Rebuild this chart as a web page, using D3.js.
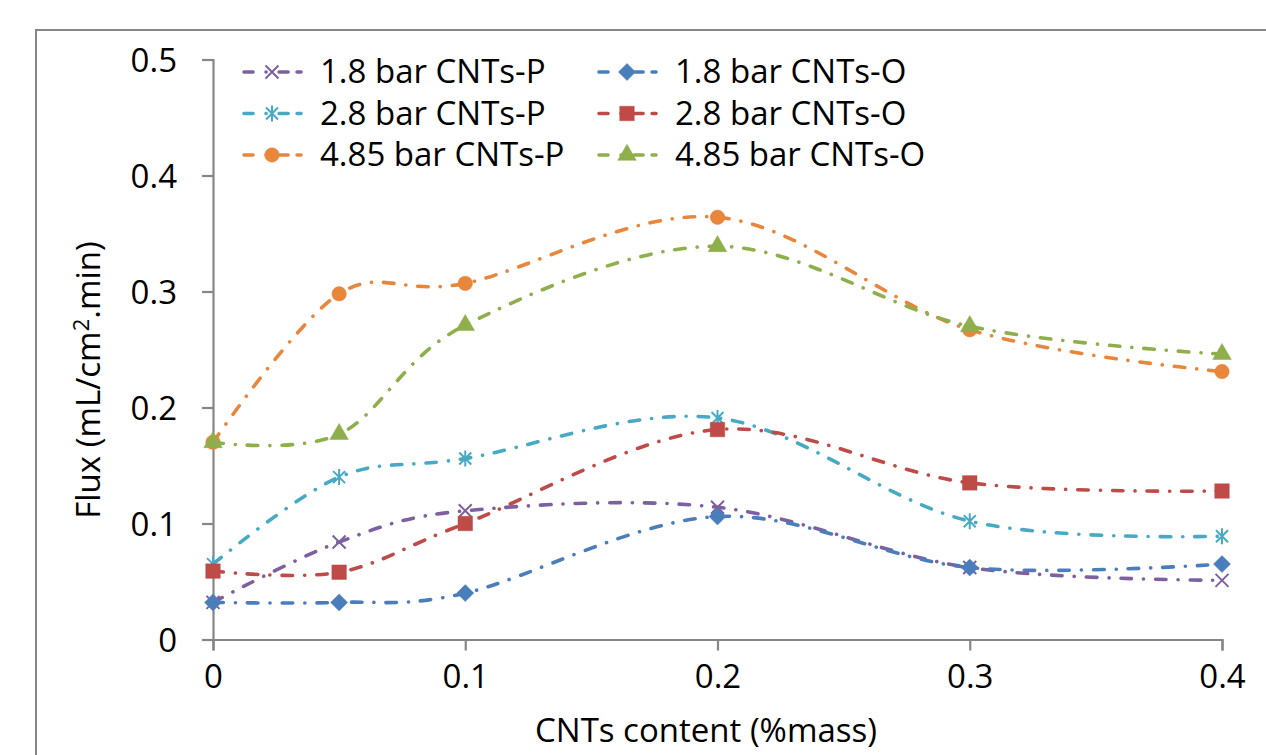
<!DOCTYPE html>
<html>
<head>
<meta charset="utf-8">
<script src="https://cdn.jsdelivr.net/npm/d3@7/dist/d3.min.js"></script>
<style>
  body { margin: 0; background: #fff; }
  svg text { font-family: "Open Sans", "Noto Sans", sans-serif; fill: #000; }
</style>
</head>
<body>
<script>
// data
var xValues = [0, 0.05, 0.1, 0.2, 0.3, 0.4];
var flux18P = [0.032, 0.084, 0.111, 0.114, 0.062, 0.051];
var flux18O = [0.032, 0.032, 0.040, 0.106, 0.062, 0.065];
var flux28P = [0.065, 0.140, 0.156, 0.191, 0.102, 0.089];
var flux28O = [0.059, 0.058, 0.100, 0.181, 0.135, 0.128];
var flux485P = [0.170, 0.298, 0.307, 0.364, 0.267, 0.231];
var flux485O = [0.170, 0.177, 0.271, 0.339, 0.270, 0.246];

var seriesNames = ["1.8 bar CNTs-P", "1.8 bar CNTs-O", "2.8 bar CNTs-P",
                   "2.8 bar CNTs-O", "4.85 bar CNTs-P", "4.85 bar CNTs-O"];
var seriesValues = [flux18P, flux18O, flux28P, flux28O, flux485P, flux485O];

var xTicks = [0, 0.1, 0.2, 0.3, 0.4];
var yTicks = [0, 0.1, 0.2, 0.3, 0.4, 0.5];

// styles
var colors = ["#7D60A0", "#4A7EBB", "#46AAC5", "#BE4B48", "#E8863C", "#8FAE4C"];
var markers = ["x", "diamond", "star", "square", "circle", "triangle"];

var w = 1266;
var h = 755;
var axisColor = "#868686";

var svg = d3.select("body").append("svg")
    .attr("width", w)
    .attr("height", h);

// outer chart border (runs off the right and bottom)
svg.append("rect")
    .attr("x", 36).attr("y", 30)
    .attr("width", 1300).attr("height", 800)
    .style("fill", "none")
    .style("stroke", axisColor)
    .style("stroke-width", 2);

var x = d3.scaleLinear().domain([0, 0.4]).range([213, 1222]);
var y = d3.scaleLinear().domain([0, 0.5]).range([639.5, 59.5]);

// y axis
var yAxis = svg.append("g")
    .attr("transform", "translate(" + x(0) + ",0)")
    .call(d3.axisLeft(y).tickValues(yTicks).tickSize(11).tickPadding(25)
        .tickFormat(function(d) { return d == 0 ? "0" : d3.format(".1f")(d); }));

// x axis
var xAxis = svg.append("g")
    .attr("transform", "translate(0," + y(0) + ")")
    .call(d3.axisBottom(x).tickValues(xTicks).tickSize(11).tickPadding(14)
        .tickFormat(function(d) { return d == 0 ? "0" : d3.format(".1f")(d); }));

[yAxis, xAxis].forEach(function(a) {
    a.select(".domain").style("stroke", axisColor).style("stroke-width", 2.2);
    a.selectAll(".tick line").style("stroke", axisColor).style("stroke-width", 2.2);
    a.selectAll(".tick text")
        .style("font-size", "33px")
        .style("font-family", "'Open Sans', sans-serif")
        .style("fill", "#000");
});
yAxis.selectAll(".tick text").attr("dy", "0.36em");

// axis titles
svg.append("text")
    .attr("x", 706).attr("y", 742)
    .attr("text-anchor", "middle")
    .style("font-size", "33px")
    .text("CNTs content (%mass)");

var yTitle = svg.append("text")
    .attr("transform", "translate(100,380) rotate(-90)")
    .attr("text-anchor", "middle")
    .style("font-size", "33px");
yTitle.append("tspan").text("Flux (mL/cm");
yTitle.append("tspan").attr("dy", -11).style("font-size", "22px").text("2");
yTitle.append("tspan").attr("dy", 11).text(".min)");

// markers
function markerPath(type) {
    if (type == "x") {
        return "M-6.5,-6.5L6.5,6.5M-6.5,6.5L6.5,-6.5";
    }
    if (type == "star") {
        return "M-6,-6L6,6M-6,6L6,-6M0,-8L0,8";
    }
    if (type == "diamond") {
        return "M0,-8.5L8.5,0L0,8.5L-8.5,0Z";
    }
    var sym = { square: d3.symbolSquare, circle: d3.symbolCircle,
                triangle: d3.symbolTriangle }[type];
    var size = { square: 210, circle: 165, triangle: 150 }[type];
    return d3.symbol().type(sym).size(size)();
}

function drawMarker(g, type, color, px, py) {
    var open = (type == "x" || type == "star");
    g.append("path")
        .attr("d", markerPath(type))
        .attr("transform", "translate(" + px + "," + py + ")")
        .style("fill", open ? "none" : color)
        .style("stroke", color)
        .style("stroke-width", open ? 2 : 0.5);
}

var dash = "10.5,12,0.1,12";

var line = d3.line()
    .x(function(d) { return x(d[0]); })
    .y(function(d) { return y(d[1]); })
    .curve(d3.curveCardinal.tension(0));

seriesValues.forEach(function(vals, s) {
    var pts = xValues.map(function(xv, i) { return [xv, vals[i]]; });
    var g = svg.append("g");
    g.append("path")
        .attr("d", line(pts))
        .style("fill", "none")
        .style("stroke", colors[s])
        .style("stroke-width", 3.6)
        .style("stroke-linecap", "round")
        .style("stroke-dasharray", dash);
    pts.forEach(function(p) {
        drawMarker(g, markers[s], colors[s], x(p[0]), y(p[1]));
    });
});

// legend, two columns
var legend = svg.append("g");
seriesNames.forEach(function(name, s) {
    var col = s % 2;
    var row = Math.floor(s / 2);
    var lx = col == 0 ? 244 : 599;
    var ly = 72 + row * 41.5;
    legend.append("line")
        .attr("x1", lx).attr("x2", lx + 57)
        .attr("y1", ly).attr("y2", ly)
        .style("stroke", colors[s])
        .style("stroke-width", 3.6)
        .style("stroke-linecap", "round")
        .style("stroke-dasharray", "9,13,0.1,13,9");
    drawMarker(legend, markers[s], colors[s], lx + 28, ly);
    legend.append("text")
        .attr("x", lx + 76).attr("y", ly + 11)
        .style("font-size", "33px")
        .text(name);
});
</script>
</body>
</html>
